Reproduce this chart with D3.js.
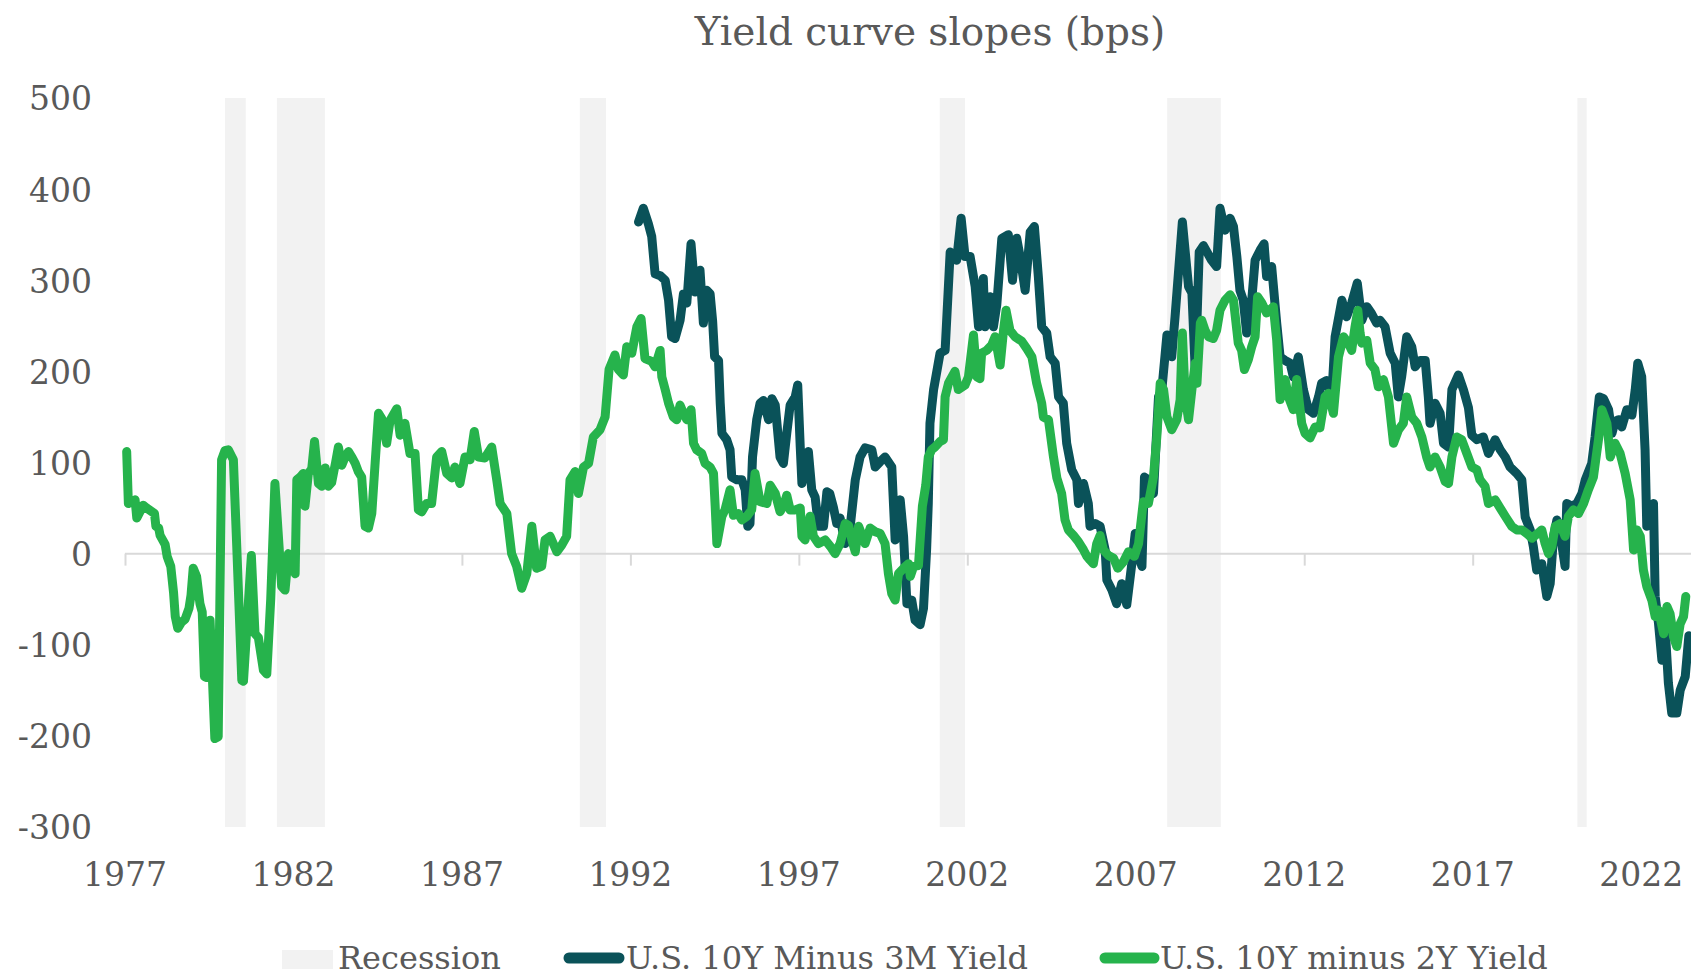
<!DOCTYPE html>
<html lang="en">
<head>
<meta charset="utf-8"/>
<title>Yield curve slopes (bps)</title>
<script src="https://d3js.org/d3.v7.min.js"></script>
<style>
  html, body { margin: 0; padding: 0; background: #fff; }
  svg text { font-family: "DejaVu Serif", Georgia, serif; fill: #595959; }
</style>
</head>
<body>
<div id="chart"></div>
<script>
// months are counted from Jan 1977 (0 = Jan 1977)
var yearLabels = ["1977", "1982", "1987", "1992", "1997", "2002", "2007", "2012", "2017", "2022"];
var yearTickMonths = [0, 60, 120, 180, 240, 300, 360, 420, 480, 540];
var yTicks = [-300, -200, -100, 0, 100, 200, 300, 400, 500];

var recessionStart = [35.6, 54.1, 162, 290.2, 371.2, 517.3];
var recessionEnd = [43, 71.2, 171.3, 299.2, 390.3, 520.6];

// U.S. 10Y minus 2Y yield (green)
var tenTwoMonth = [0.6, 1.2, 3.6, 4.2, 6.5, 7.7, 10.5, 11, 12, 12.5, 14.3, 15, 16.3, 17.3, 17.9, 18.8, 20.2, 21.4, 22.8, 23.5,
  24.3, 25.5, 26.7, 27.5, 28.3, 29.1, 30.3, 32, 33.2, 34.4, 35.6, 36.8, 38.6, 39.8, 41.6, 42.2, 45, 46.3, 47.5, 49.3,
  50.5, 51.9, 53.4, 55.8, 57, 58.2, 59.4, 60.6, 61.2, 62.4, 63.5, 64.1, 65.3, 66.5, 67.5, 68.9, 70.1, 71.3, 72.4, 73.6,
  75, 76, 77.2, 78.4, 79.6, 80.8, 82, 83.1, 84.3, 85.5, 86.7, 87.9, 89.1, 90.3, 91.5, 93.2, 94.4, 96.8, 98, 99.7,
  101.5, 103.3, 104.5, 105.7, 107.4, 109.2, 111, 112.8, 114.6, 116.4, 117.5, 119.3, 121.1, 122.9, 124.4, 125.9, 128.2, 130.6, 132.4, 133.6,
  136, 137.7, 139.5, 141.3, 143.1, 144.9, 146.6, 148.4, 149.6, 151.4, 153.8, 155.5, 157.3, 158.5, 160.3, 161.5, 163.3, 165.1, 166.8, 169.2,
  171, 172.4, 174.5, 175.7, 177.5, 178.7, 180.5, 182.3, 183.8, 185.2, 187.6, 188.8, 190.6, 191.2, 192.4, 193.6, 195.3, 196.5, 197.7, 198.9,
  200.1, 201.6, 202.5, 203.6, 205.4, 206.6, 208.4, 209.6, 210.2, 210.8, 212.6, 213.7, 215.5, 216.7, 218.5, 219.7, 221.5, 223.2, 224.4, 226.2,
  228.6, 229.8, 231.6, 233.3, 234.5, 235.7, 236.9, 238.7, 240.5, 241.1, 242.2, 244, 245.2, 247, 249.4, 251.2, 252.9, 254.7, 256.5, 257.7,
  258.9, 260.1, 261.3, 263.6, 265.4, 267.2, 269, 270.7, 271.9, 273.1, 274.3, 275.5, 277.3, 279.1, 279.7, 280.9, 282.6, 284, 285.2, 286.1,
  287.3, 288.5, 290.3, 291.5, 292.1, 293.3, 295.6, 296.8, 299.2, 300.4, 302.2, 303.4, 304.5, 305.1, 306.9, 308.7, 309.9, 311.7, 312.9, 313.8,
  315.2, 317, 319.4, 321.2, 323, 324.7, 326.5, 327.1, 328.9, 330.7, 331.9, 333.6, 334.8, 336, 337.8, 339.6, 341.4, 342.6, 343.7, 344.9,
  346.1, 347.3, 348.5, 350.3, 352.1, 353.6, 355.6, 357.4, 359.5, 361, 362.7, 364.5, 366.3, 367.5, 368.7, 369.9, 371.1, 372.8, 374.6, 375.8,
  376.6, 377.6, 378.8, 380, 381.2, 381.8, 383, 383.5, 384.7, 385.9, 387.6, 388.8, 390, 391.8, 393.6, 394.8, 396, 396.5, 397.7, 398.7,
  400.1, 401.3, 402.5, 403.4, 404.9, 406.6, 409, 410.2, 411.4, 413.2, 414.4, 416.1, 417.3, 419.1, 420.3, 422.1, 423.9, 425.6, 427.4, 428.6,
  430.4, 432.2, 434, 435.7, 436.9, 438.1, 439.1, 439.9, 440.5, 442.3, 443.5, 445.2, 446.4, 448.2, 450, 451.8, 453.6, 455.3, 456.5, 458.3,
  460.1, 461.9, 463.6, 464.8, 466.6, 468.4, 470.2, 471.4, 472.6, 474.3, 476.1, 477.9, 479.7, 481.5, 482.6, 484.4, 485.6, 488, 489.8, 491.6,
  493.9, 495.7, 497.5, 499.3, 501.1, 503.1, 504.6, 505.8, 507, 508.2, 509.4, 511.1, 512.9, 514.1, 515.9, 517.7, 519.5, 521.2, 523, 524.8,
  526, 527.8, 529, 530.7, 532.5, 534.3, 536.1, 537.3, 538.5, 539.7, 540.8, 542, 543.8, 545, 546.2, 548, 549.2, 550.3, 551.5, 552.7,
  553.9, 555.1, 555.9];
var tenTwoBps = [112, 55, 59, 39, 53, 50, 44, 30, 28, 20, 10, -3, -14, -43, -69, -82, -75, -72, -60, -46,
  -16, -25, -55, -64, -135, -136, -73, -203, -201, 103, 113, 114, 103, 8, -139, -140, -2, -88, -92, -128,
  -132, -50, 77, -36, -40, 0, -10, -22, 81, 84, 88, 52, 88, 93, 123, 77, 74, 94, 74, 78,
  100, 117, 97, 106, 112, 106, 99, 90, 84, 30, 28, 44, 100, 154, 148, 121, 146, 159, 130, 143,
  110, 110, 48, 46, 55, 55, 106, 112, 88, 83, 95, 77, 106, 103, 134, 106, 105, 117, 81, 55,
  44, 0, -14, -38, -22, 30, -16, -14, 15, 19, 2, 9, 19, 81, 90, 66, 95, 99, 128, 136,
  150, 202, 218, 202, 196, 227, 220, 249, 258, 214, 211, 205, 223, 194, 180, 165, 150, 147, 163, 154,
  147, 158, 121, 114, 110, 99, 95, 88, 52, 11, 41, 48, 70, 42, 44, 37, 41, 48, 88, 57,
  55, 75, 66, 46, 52, 64, 48, 48, 50, 19, 15, 41, 19, 11, 15, 8, 0, 11, 33, 31,
  15, 2, 30, 11, 28, 24, 22, 11, -22, -44, -51, -22, -16, -11, -25, -14, -13, 52, 75, 106,
  114, 117, 123, 125, 172, 187, 200, 180, 185, 194, 240, 194, 192, 220, 223, 229, 238, 207, 245, 267,
  245, 238, 233, 225, 216, 187, 165, 150, 147, 106, 83, 66, 37, 26, 20, 13, 4, -3, -7, -11,
  11, 20, 4, -2, -5, -16, -9, 2, -3, 11, 57, 55, 84, 128, 187, 180, 150, 136, 147, 169,
  242, 172, 147, 180, 209, 187, 253, 256, 245, 238, 236, 245, 267, 278, 284, 278, 245, 231, 223, 202,
  213, 227, 238, 282, 275, 264, 271, 234, 169, 191, 172, 158, 191, 143, 132, 127, 139, 138, 172, 176,
  154, 216, 238, 231, 223, 249, 267, 242, 231, 234, 209, 202, 183, 191, 172, 121, 136, 143, 172, 150,
  143, 128, 106, 95, 106, 95, 79, 77, 106, 128, 125, 110, 95, 92, 81, 74, 55, 59, 50, 41,
  30, 26, 26, 22, 17, 22, 26, 11, 0, 8, 30, 33, 19, 41, 48, 44, 55, 70, 84, 125,
  158, 143, 106, 121, 110, 88, 59, 4, 26, 19, -18, -36, -51, -69, -62, -88, -58, -66, -91, -102,
  -77, -69, -47];

// U.S. 10Y minus 3M yield (dark teal)
var tenThreeMonth = [182.9, 184.6, 186.4, 187.6, 188.8, 190.6, 192.4, 193.6, 194.7, 195.9, 197.7, 198.9, 200.1, 201.6, 203, 204.8, 206, 207.2, 208.4, 209.3,
  210, 211.4, 212, 212.6, 214.3, 215.5, 216.1, 217.9, 219.7, 220.9, 221.8, 222.6, 223.5, 225, 226.2, 227.4, 229.2, 230.4, 231.6, 233.3,
  234.5, 235.7, 236.9, 238.7, 239.6, 240.5, 241.1, 243.4, 244.6, 245.8, 247, 248.8, 250, 251, 252.3, 253.5, 254.7, 256.5, 258.3, 260.1,
  261.8, 263.6, 266, 267.2, 269, 270.7, 273.1, 274.3, 276.1, 277.3, 278.5, 280.2, 281.4, 283.2, 284.4, 285.5, 286.1, 286.7, 288, 290.3,
  292.1, 293.9, 296.2, 297.8, 299.2, 301, 302.8, 304, 305.7, 306.3, 308.1, 309.3, 310.5, 312.3, 314.6, 316.1, 317.6, 318.8, 320.6, 322.4,
  323.9, 325.3, 326.5, 328.3, 329.5, 331.3, 332.5, 334.2, 335.4, 337.2, 339, 339.6, 341.4, 343.1, 343.7, 345.5, 347.3, 349.1, 349.7, 351.5,
  353.2, 355, 356.8, 358.6, 359.8, 361, 362.2, 363.1, 364.5, 366.3, 368.1, 369.3, 371.1, 372.8, 374, 376.6, 378.8, 380, 381.2, 382.6,
  384.1, 387, 388.8, 390, 391.8, 393.6, 394.8, 396, 397.1, 398.3, 399.5, 401.3, 402.5, 404.3, 405.7, 406.6, 408.4, 410.2, 411.4, 413.2,
  415, 416.1, 417.9, 419.7, 421.5, 423.3, 425.1, 426.2, 428, 429.8, 431, 433.4, 435.1, 436.9, 438.9, 440.5, 442.3, 443.9, 445.8, 447,
  448.8, 450.6, 452.4, 453.5, 454.7, 456.5, 458.3, 459.5, 461.3, 463.1, 464.2, 464.8, 466.6, 468.4, 469.6, 471.4, 472.6, 474.9, 476.7, 478.5,
  479.7, 481.5, 483.8, 485.6, 488, 489.8, 491.6, 493.3, 495.7, 497.5, 498.7, 500.5, 501.6, 502.8, 504.6, 506.4, 507.6, 508.8, 510, 511.7,
  512.9, 513.5, 515.3, 517.1, 518.9, 520.1, 522.4, 523.6, 525.1, 526.6, 528.4, 529.6, 530.7, 531.9, 533.1, 534.9, 536.7, 537.9, 538.8, 540.2,
  541.4, 542, 543.2, 544.4, 545, 546.2, 547.4, 548.6, 549.7, 550.9, 552.7, 553.9, 555.7, 557];
var tenThreeBps = [364, 379, 362, 348, 307, 305, 300, 278, 238, 236, 256, 285, 275, 340, 287, 311, 253, 289, 285, 255,
  216, 212, 165, 132, 125, 114, 84, 81, 81, 70, 30, 33, 106, 147, 165, 168, 147, 170, 163, 106,
  99, 132, 163, 172, 185, 117, 77, 112, 70, 62, 30, 30, 68, 66, 51, 33, 39, 11, 30, 81,
  106, 116, 114, 95, 101, 106, 95, 15, 59, 19, -55, -51, -73, -78, -60, 4, 55, 143, 180, 220,
  223, 331, 322, 368, 326, 326, 293, 249, 302, 249, 282, 249, 273, 346, 350, 300, 346, 326, 289, 353,
  359, 304, 249, 242, 216, 209, 172, 165, 121, 92, 81, 55, 77, 55, 30, 33, 30, 4, -29, -40,
  -55, -33, -56, -11, 22, -3, -14, 84, 81, 66, 172, 180, 240, 216, 260, 364, 293, 286, 200, 331,
  338, 322, 315, 379, 355, 368, 359, 326, 289, 278, 242, 278, 322, 333, 340, 304, 315, 253, 216, 212,
  209, 194, 216, 180, 158, 154, 172, 187, 190, 172, 238, 278, 260, 275, 297, 256, 271, 264, 253, 256,
  249, 220, 209, 172, 194, 238, 227, 205, 212, 212, 172, 143, 165, 154, 121, 117, 180, 196, 180, 160,
  130, 125, 128, 110, 125, 114, 106, 95, 88, 81, 40, 26, 8, -18, -11, -47, -33, 19, 37, 11,
  -14, 55, 52, 55, 66, 81, 99, 128, 172, 170, 158, 132, 145, 147, 139, 158, 152, 180, 209, 194,
  114, 30, 40, 55, -47, -77, -117, -84, -142, -175, -175, -150, -135, -90];

var width = 1691,
    height = 976;

var svg = d3.select("#chart").append("svg")
    .attr("width", width)
    .attr("height", height);

var x = d3.scaleLinear()
    .domain([0, 557.4])
    .range([125, 1690]);

var y = d3.scaleLinear()
    .domain([-300, 500])
    .range([827, 98]);

// title
svg.append("text")
    .attr("x", 930)
    .attr("y", 45)
    .attr("text-anchor", "middle")
    .style("font-size", "39px")
    .text("Yield curve slopes (bps)");

// recession shading
svg.append("g")
  .selectAll("rect")
  .data(recessionStart)
  .enter().append("rect")
    .attr("x", function(d) { return x(d); })
    .attr("y", y(500))
    .attr("width", function(d, i) { return x(recessionEnd[i]) - x(d); })
    .attr("height", y(-300) - y(500))
    .attr("fill", "#f2f2f2");

// zero line with year ticks
var xAxis = svg.append("g")
    .attr("transform", "translate(0," + y(0) + ")")
    .call(d3.axisBottom(x)
      .tickValues(yearTickMonths)
      .tickSize(12)
      .tickFormat(""));
xAxis.select(".domain").attr("stroke", "#d9d9d9").attr("stroke-width", 2).attr("d", "M" + x(0) + ",0H1691");
xAxis.selectAll(".tick line").attr("stroke", "#d9d9d9").attr("stroke-width", 2);

// year labels along the bottom
svg.append("g")
  .selectAll("text")
  .data(yearTickMonths)
  .enter().append("text")
    .attr("x", function(d) { return x(d); })
    .attr("y", 886)
    .attr("text-anchor", "middle")
    .style("font-size", "33px")
    .text(function(d, i) { return yearLabels[i]; });

// y labels (plain hyphen for negatives, like the original)
var yAxis = svg.append("g")
    .attr("transform", "translate(92,0)")
    .call(d3.axisLeft(y).tickValues(yTicks).tickSize(0).tickPadding(0)
      .tickFormat(function(d) { return String(d); }));
yAxis.select(".domain").remove();
yAxis.selectAll("text")
    .attr("dy", "0.36em")
    .style("font-family", "'DejaVu Serif', Georgia, serif")
    .style("font-size", "33px")
    .attr("fill", "#595959");

var line = d3.line()
    .x(function(d) { return x(d[0]); })
    .y(function(d) { return y(d[1]); });

var tenThree = tenThreeMonth.map(function(m, i) { return [m, tenThreeBps[i]]; });
var tenTwo = tenTwoMonth.map(function(m, i) { return [m, tenTwoBps[i]]; });

svg.append("path")
    .datum(tenThree)
    .attr("d", line)
    .attr("fill", "none")
    .attr("stroke", "#0a5259")
    .attr("stroke-width", 9)
    .attr("stroke-linejoin", "round")
    .attr("stroke-linecap", "round");

svg.append("path")
    .datum(tenTwo)
    .attr("d", line)
    .attr("fill", "none")
    .attr("stroke", "#26b34c")
    .attr("stroke-width", 9)
    .attr("stroke-linejoin", "round")
    .attr("stroke-linecap", "round");

// legend
var legend = svg.append("g").style("font-size", "32px");

legend.append("rect")
    .attr("x", 282).attr("y", 950)
    .attr("width", 51).attr("height", 19)
    .attr("fill", "#f2f2f2");
legend.append("text").attr("x", 338).attr("y", 969).text("Recession");

legend.append("line")
    .attr("x1", 569).attr("x2", 619).attr("y1", 958).attr("y2", 958)
    .attr("stroke", "#0a5259").attr("stroke-width", 11).attr("stroke-linecap", "round");
legend.append("text").attr("x", 626).attr("y", 969).text("U.S. 10Y Minus 3M Yield");

legend.append("line")
    .attr("x1", 1105).attr("x2", 1154).attr("y1", 958).attr("y2", 958)
    .attr("stroke", "#26b34c").attr("stroke-width", 11).attr("stroke-linecap", "round");
legend.append("text").attr("x", 1160).attr("y", 969).text("U.S. 10Y minus 2Y Yield");
</script>
</body>
</html>
